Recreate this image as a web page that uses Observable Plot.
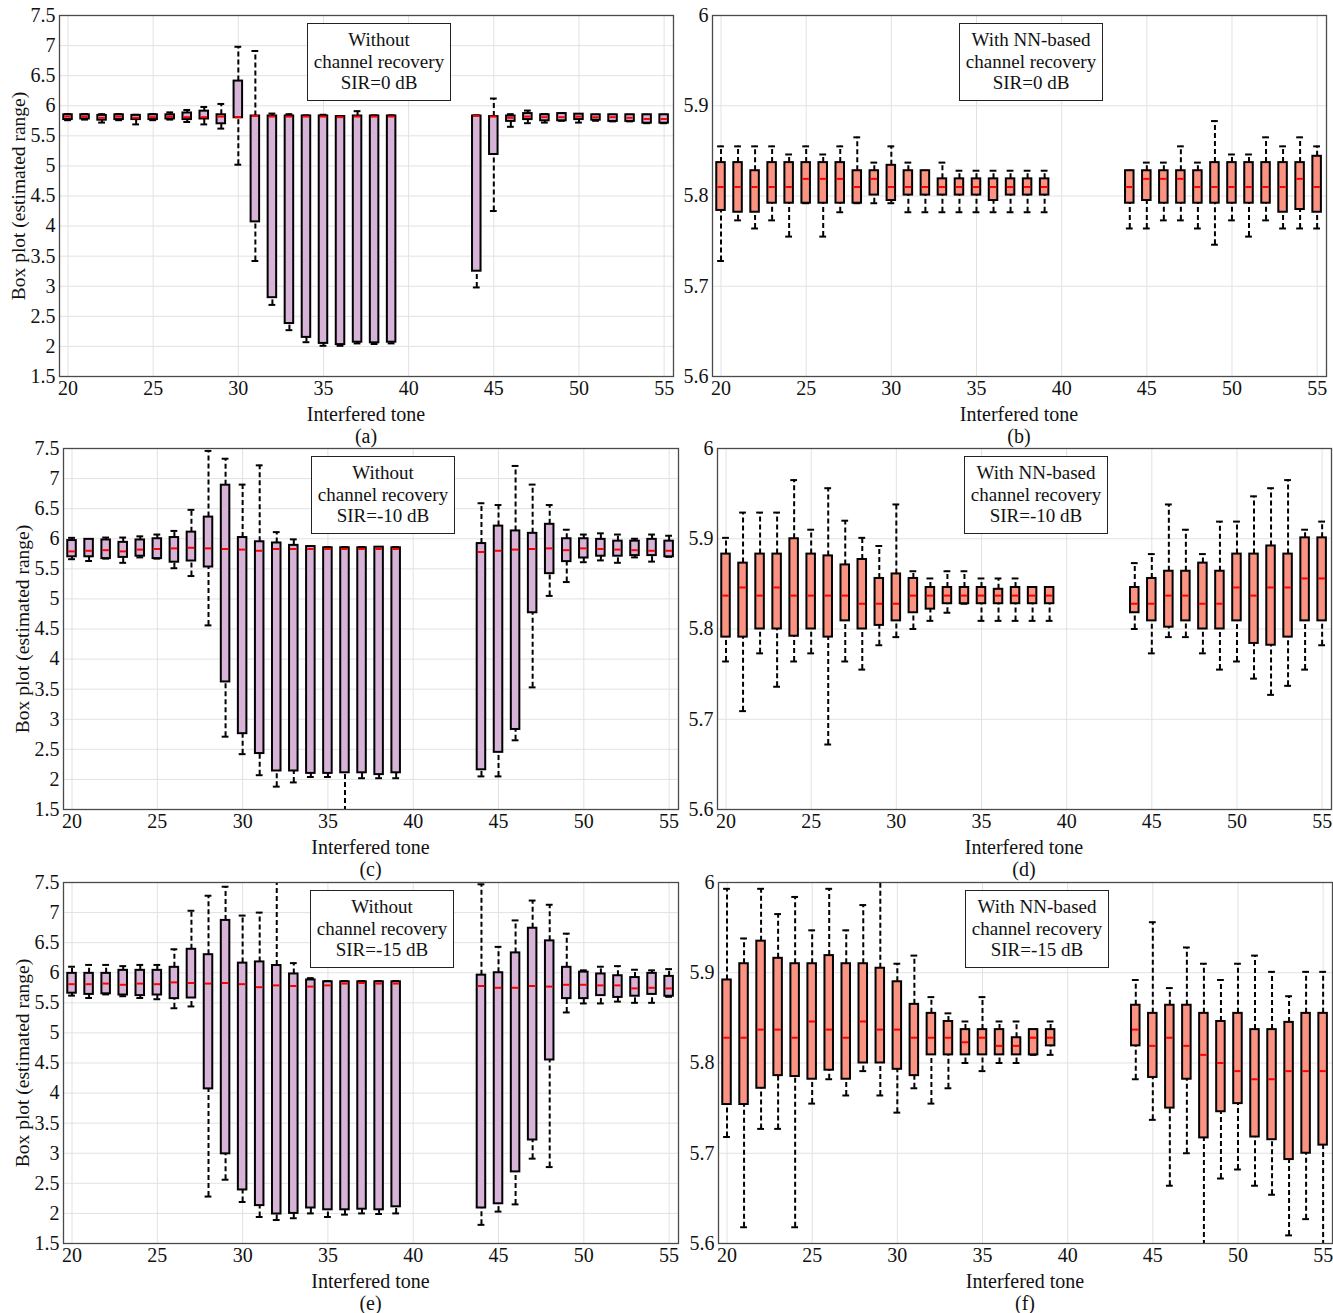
<!DOCTYPE html>
<html>
<head>
<meta charset="utf-8">
<script src="https://cdn.jsdelivr.net/npm/d3@7"></script>
<script src="https://cdn.jsdelivr.net/npm/@observablehq/plot@0.6"></script>
<style>
  html, body { margin: 0; padding: 0; background: #fff; }
  #root { position: relative; width: 1333px; height: 1313px; background: #fff; font-family: "Liberation Serif", serif; color: #111; }
  .panel { position: absolute; }
  .legend { position: absolute; box-sizing: border-box; border: 1px solid #222; background: #fff; text-align: center; font-size: 19px; line-height: 21.5px; padding-top: 5px; }
  .lbl { position: absolute; transform: translate(-50%, -50%); font-size: 20px; white-space: nowrap; }
  .ylbl { position: absolute; transform: translate(-50%, -50%) rotate(-90deg); font-size: 19.5px; white-space: nowrap; }
</style>
</head>
<body>
<div id="root"></div>
<script>
// ---------- data ----------
const tones = [20,21,22,23,24,25,26,27,28,29,30,31,32,33,34,35,36,37,38,39,44,45,46,47,48,49,50,51,52,53,54,55];
const xTicks = [20,25,30,35,40,45,50,55];
const yTicksWithout = [1.5,2,2.5,3,3.5,4,4.5,5,5.5,6,6.5,7,7.5];
const yTicksWith = [5.6,5.7,5.8,5.9,6];

// (a) Without recovery, SIR=0 dB
const a_hi  = [5.86,5.86,5.86,5.86,5.85,5.86,5.89,5.93,5.98,6.03,6.98,6.91,5.87,5.86,5.84,5.85,5.83,5.91,5.84,5.84, 5.84,6.12,5.86,5.92,5.86,5.87,5.86,5.85,5.85,5.85,5.85,5.85];
const a_q3  = [5.85,5.85,5.84,5.85,5.84,5.85,5.85,5.88,5.91,5.85,6.41,5.83,5.83,5.83,5.83,5.83,5.82,5.83,5.83,5.83, 5.83,5.82,5.83,5.87,5.85,5.87,5.86,5.85,5.85,5.85,5.85,5.85];
const a_med = [5.82,5.82,5.80,5.82,5.80,5.81,5.82,5.81,5.81,5.82,5.81,5.83,5.82,5.82,5.82,5.82,5.81,5.82,5.82,5.82, 5.83,5.82,5.80,5.82,5.81,5.81,5.82,5.81,5.81,5.80,5.78,5.78];
const a_q1  = [5.77,5.78,5.76,5.77,5.77,5.77,5.78,5.77,5.78,5.70,5.80,4.07,2.81,2.38,2.15,2.05,2.03,2.07,2.06,2.07, 3.25,5.19,5.74,5.77,5.75,5.75,5.77,5.76,5.74,5.74,5.71,5.71];
const a_lo  = [5.76,5.77,5.72,5.76,5.69,5.76,5.77,5.73,5.69,5.62,5.02,3.42,2.69,2.27,2.07,2.01,2.01,2.05,2.04,2.05, 2.98,4.25,5.65,5.71,5.72,5.75,5.72,5.75,5.74,5.74,5.71,5.71];

// (b) With NN-based recovery, SIR=0 dB
const b_hi  = [5.855,5.855,5.855,5.855,5.846,5.855,5.846,5.855,5.865,5.837,5.855,5.837,5.828,5.837,5.828,5.828,5.828,5.828,5.828,5.828, 5.828,5.837,5.837,5.855,5.837,5.883,5.846,5.846,5.865,5.855,5.865,5.855];
const b_q3  = [5.837,5.837,5.828,5.837,5.837,5.837,5.837,5.837,5.828,5.828,5.834,5.828,5.828,5.819,5.819,5.819,5.819,5.819,5.819,5.819, 5.828,5.828,5.828,5.828,5.828,5.837,5.837,5.837,5.837,5.837,5.837,5.844];
const b_med = [5.810,5.810,5.810,5.810,5.810,5.819,5.819,5.819,5.810,5.819,5.810,5.810,5.810,5.810,5.810,5.810,5.810,5.810,5.810,5.810, 5.810,5.819,5.819,5.819,5.810,5.810,5.810,5.810,5.810,5.810,5.819,5.810];
const b_q1  = [5.784,5.782,5.782,5.792,5.792,5.792,5.792,5.792,5.792,5.801,5.795,5.801,5.801,5.801,5.801,5.801,5.795,5.801,5.801,5.801, 5.792,5.795,5.792,5.792,5.792,5.792,5.792,5.792,5.792,5.782,5.785,5.782];
const b_lo  = [5.728,5.773,5.764,5.773,5.755,5.792,5.755,5.782,5.792,5.792,5.792,5.782,5.782,5.782,5.782,5.782,5.782,5.782,5.782,5.782, 5.764,5.764,5.773,5.773,5.764,5.746,5.773,5.755,5.773,5.764,5.764,5.764];

// (c) Without recovery, SIR=-10 dB
const c_hi  = [6.015,5.99,6.02,6.02,6.04,6.07,6.13,6.48,7.46,7.33,6.90,7.22,6.11,5.99,5.87,5.86,5.86,5.86,5.86,5.86, 6.59,6.56,7.21,6.90,6.56,6.15,6.07,6.09,6.07,6.00,6.07,6.05];
const c_q3  = [5.97,5.99,5.98,5.94,5.98,6.00,6.02,6.11,6.36,6.89,6.02,5.95,5.93,5.89,5.87,5.85,5.85,5.85,5.86,5.85, 5.92,6.21,6.13,6.09,6.24,6.00,6.00,5.99,5.96,5.96,5.99,5.96];
const c_med = [5.79,5.80,5.81,5.79,5.82,5.83,5.84,5.85,5.84,5.83,5.82,5.80,5.83,5.83,5.83,5.83,5.83,5.83,5.83,5.83, 5.78,5.80,5.82,5.83,5.84,5.81,5.84,5.83,5.82,5.81,5.80,5.80];
const c_q1  = [5.70,5.70,5.67,5.69,5.71,5.67,5.61,5.63,5.53,3.62,2.76,2.43,2.14,2.14,2.10,2.10,2.11,2.11,2.08,2.11, 2.16,2.45,2.83,4.77,5.42,5.62,5.68,5.71,5.71,5.72,5.72,5.70];
const c_lo  = [5.66,5.63,5.67,5.60,5.69,5.67,5.51,5.38,4.56,2.71,2.42,2.07,1.88,1.95,2.04,2.04,1.20,2.02,2.02,2.02, 2.05,2.05,2.65,3.53,5.05,5.28,5.61,5.64,5.60,5.69,5.62,5.70];

// (d) With NN-based recovery, SIR=-10 dB
const d_hi  = [5.901,5.929,5.929,5.929,5.965,5.910,5.956,5.920,5.901,5.892,5.938,5.864,5.856,5.864,5.864,5.856,5.856,5.856,5.846,5.846, 5.873,5.883,5.938,5.910,5.883,5.919,5.919,5.947,5.956,5.965,5.910,5.919];
const d_q3  = [5.883,5.873,5.883,5.883,5.900,5.883,5.881,5.871,5.877,5.856,5.861,5.856,5.846,5.846,5.846,5.846,5.844,5.846,5.846,5.846, 5.846,5.856,5.864,5.864,5.873,5.864,5.883,5.883,5.892,5.883,5.901,5.901];
const d_med = [5.837,5.846,5.837,5.846,5.837,5.837,5.837,5.837,5.828,5.828,5.828,5.837,5.837,5.837,5.837,5.837,5.837,5.837,5.837,5.837, 5.828,5.828,5.837,5.837,5.828,5.828,5.846,5.837,5.846,5.846,5.856,5.856];
const d_q1  = [5.791,5.791,5.800,5.800,5.792,5.800,5.791,5.809,5.800,5.804,5.809,5.818,5.822,5.828,5.828,5.828,5.828,5.828,5.828,5.828, 5.818,5.809,5.802,5.809,5.800,5.800,5.809,5.784,5.782,5.791,5.809,5.809];
const d_lo  = [5.764,5.709,5.773,5.736,5.764,5.773,5.672,5.764,5.755,5.782,5.791,5.800,5.809,5.818,5.828,5.809,5.809,5.809,5.809,5.809, 5.800,5.773,5.791,5.791,5.773,5.755,5.764,5.745,5.727,5.737,5.755,5.782];

// (e) Without recovery, SIR=-15 dB
const e_hi  = [6.10,6.13,6.13,6.11,6.13,6.13,6.39,7.03,7.28,7.43,6.95,7.00,7.70,6.16,5.91,5.86,5.86,5.86,5.86,5.86, 7.47,6.43,6.87,7.20,7.13,6.65,6.04,6.10,6.11,6.05,6.04,6.06];
const e_q3  = [5.99,5.99,5.99,6.04,6.04,6.04,6.09,6.39,6.30,6.87,6.16,6.18,6.12,5.98,5.88,5.85,5.85,5.85,5.85,5.85, 5.96,6.00,6.33,6.74,6.53,6.09,6.01,5.98,5.95,5.92,5.99,5.94];
const e_med = [5.81,5.81,5.82,5.80,5.82,5.81,5.84,5.83,5.82,5.83,5.81,5.76,5.79,5.78,5.77,5.79,5.82,5.83,5.82,5.82, 5.78,5.75,5.75,5.78,5.77,5.80,5.80,5.79,5.79,5.74,5.75,5.74];
const e_q1  = [5.66,5.64,5.65,5.63,5.62,5.63,5.57,5.58,4.07,2.99,2.39,2.13,1.99,2.00,2.09,2.06,2.06,2.07,2.06,2.11, 2.09,2.16,2.69,3.22,4.55,5.57,5.57,5.62,5.59,5.61,5.64,5.61];
const e_lo  = [5.62,5.58,5.64,5.61,5.58,5.56,5.41,5.44,2.28,2.56,2.19,1.94,1.89,1.92,2.00,1.94,1.98,2.00,1.99,2.00, 1.81,2.03,2.15,2.91,2.77,5.34,5.49,5.49,5.52,5.50,5.50,5.60];

// (f) With NN-based recovery, SIR=-15 dB
const f_hi  = [5.993,5.938,5.993,5.965,5.984,5.947,5.993,5.947,5.975,6.020,5.910,5.919,5.873,5.855,5.846,5.873,5.846,5.846,5.837,5.846, 5.892,5.956,5.883,5.928,5.910,5.892,5.910,5.919,5.901,5.874,5.901,5.901];
const f_q3  = [5.892,5.910,5.935,5.916,5.910,5.910,5.919,5.910,5.910,5.905,5.890,5.865,5.855,5.846,5.837,5.837,5.837,5.828,5.837,5.837, 5.864,5.855,5.864,5.864,5.855,5.846,5.855,5.837,5.837,5.845,5.855,5.855];
const f_med = [5.828,5.828,5.837,5.837,5.828,5.846,5.837,5.828,5.846,5.837,5.837,5.828,5.828,5.828,5.823,5.828,5.819,5.819,5.828,5.828, 5.837,5.819,5.828,5.819,5.809,5.800,5.791,5.782,5.782,5.791,5.791,5.791];
const f_q1  = [5.754,5.754,5.772,5.786,5.785,5.782,5.792,5.782,5.800,5.800,5.793,5.786,5.809,5.809,5.809,5.809,5.809,5.809,5.809,5.819, 5.819,5.784,5.750,5.782,5.717,5.746,5.755,5.718,5.715,5.693,5.700,5.709];
const f_lo  = [5.718,5.618,5.727,5.727,5.618,5.755,5.782,5.764,5.791,5.764,5.745,5.772,5.755,5.772,5.800,5.791,5.800,5.800,5.809,5.809, 5.782,5.737,5.664,5.700,5.580,5.672,5.682,5.664,5.654,5.609,5.627,5.580];

const legendWithout = ["Without", "channel recovery"];
const legendWith = ["With NN-based", "channel recovery"];
const sirLabels = ["SIR=0 dB", "SIR=-10 dB", "SIR=-15 dB"];
const captions = ["(a)", "(b)", "(c)", "(d)", "(e)", "(f)"];
const xLabel = "Interfered tone";
const yLabel = "Box plot (estimated range)";

// ---------- layout ----------
const PURPLE = "#d8b3d8";
const SALMON = "#fb9383";
const panels = [
  {cap: 0, lo: a_lo, q1: a_q1, med: a_med, q3: a_q3, hi: a_hi, without: true,  sir: 0, fx0: 59,  fx1: 673,  fy0: 15,  fy1: 376,  lg: [307, 23],  ylx: 19},
  {cap: 1, lo: b_lo, q1: b_q1, med: b_med, q3: b_q3, hi: b_hi, without: false, sir: 0, fx0: 712, fx1: 1326, fy0: 15,  fy1: 376,  lg: [959, 23]},
  {cap: 2, lo: c_lo, q1: c_q1, med: c_med, q3: c_q3, hi: c_hi, without: true,  sir: 1, fx0: 63,  fx1: 678,  fy0: 448, fy1: 809,  lg: [311, 456], ylx: 23},
  {cap: 3, lo: d_lo, q1: d_q1, med: d_med, q3: d_q3, hi: d_hi, without: false, sir: 1, fx0: 717, fx1: 1331, fy0: 448, fy1: 809,  lg: [964, 456]},
  {cap: 4, lo: e_lo, q1: e_q1, med: e_med, q3: e_q3, hi: e_hi, without: true,  sir: 2, fx0: 63,  fx1: 678,  fy0: 882, fy1: 1243, lg: [310, 890], ylx: 23},
  {cap: 5, lo: f_lo, q1: f_q1, med: f_med, q3: f_q3, hi: f_hi, without: false, sir: 2, fx0: 718, fx1: 1332, fy0: 882, fy1: 1243, lg: [965, 890]}
];

const root = document.getElementById("root");
const BW = 0.25, CW = 0.2;

for (const p of panels) {
  const data = tones.map((t, i) => ({t, lo: p.lo[i], q1: p.q1[i], med: p.med[i], q3: p.q3[i], hi: p.hi[i]}));
  const yTicks = p.without ? yTicksWithout : yTicksWith;
  const mL = p.without ? 59 : 32, mR = 1, mT = 8, mB = 32;
  const fw = p.fx1 - p.fx0, fh = p.fy1 - p.fy0;
  const chart = Plot.plot({
    width: fw + mL + mR,
    height: fh + mT + mB,
    marginLeft: mL, marginRight: mR, marginTop: mT, marginBottom: mB,
    style: {fontFamily: "'Liberation Serif', serif", fontSize: "20px", color: "#111", background: "transparent", overflow: "visible"},
    x: {domain: [19.5, 55.55]},
    y: {domain: [yTicks[0], yTicks[yTicks.length - 1]]},
    marks: [
      Plot.gridX(xTicks, {stroke: "#e2e2e2", strokeOpacity: 1, strokeWidth: 1}),
      Plot.gridY(yTicks, {stroke: "#e2e2e2", strokeOpacity: 1, strokeWidth: 1}),
      Plot.axisX(xTicks, {tickSize: 0, tickPadding: 4, tickFormat: d => String(d), label: null, fill: "#111", fontSize: 20}),
      Plot.axisY(yTicks, {tickSize: 0, tickPadding: 4, tickFormat: d => String(d), fill: "#111", fontSize: 20, label: null}),
      Plot.ruleX(data, {x: "t", y1: "q3", y2: "hi", stroke: "#000", strokeWidth: 2, strokeDasharray: "5,3", clip: true}),
      Plot.ruleX(data, {x: "t", y1: "lo", y2: "q1", stroke: "#000", strokeWidth: 2, strokeDasharray: "5,3", clip: true}),
      Plot.ruleY(data, {y: "hi", x1: d => d.t - CW, x2: d => d.t + CW, stroke: "#000", strokeWidth: 2, clip: true}),
      Plot.ruleY(data, {y: "lo", x1: d => d.t - CW, x2: d => d.t + CW, stroke: "#000", strokeWidth: 2, clip: true}),
      Plot.rect(data, {x1: d => d.t - BW, x2: d => d.t + BW, y1: "q1", y2: "q3", fill: p.without ? PURPLE : SALMON, stroke: "#000", strokeWidth: 2, clip: true}),
      Plot.ruleY(data, {y: "med", x1: d => d.t - BW + 0.06, x2: d => d.t + BW - 0.06, stroke: "#ff0000", strokeWidth: 2, clip: true}),
      Plot.frame({stroke: "#4a4a4a", strokeWidth: 1.3})
    ]
  });
  const wrap = document.createElement("div");
  wrap.className = "panel";
  wrap.style.left = (p.fx0 - mL) + "px";
  wrap.style.top = (p.fy0 - mT) + "px";
  wrap.appendChild(chart);
  root.appendChild(wrap);

  // y label (left panels)
  if (p.without) {
    const yl = document.createElement("div");
    yl.className = "ylbl";
    yl.style.left = p.ylx + "px";
    yl.style.top = ((p.fy0 + p.fy1) / 2) + "px";
    yl.textContent = yLabel;
    root.appendChild(yl);
  }

  // legend box
  const lg = document.createElement("div");
  lg.className = "legend";
  lg.style.left = p.lg[0] + "px";
  lg.style.top = p.lg[1] + "px";
  lg.style.width = "144px";
  lg.style.height = "78px";
  const lines = (p.without ? legendWithout : legendWith).concat([sirLabels[p.sir]]);
  lg.innerHTML = lines.map(s => `<div>${s}</div>`).join("");
  root.appendChild(lg);

  // x label and caption
  const cx = (p.fx0 + p.fx1) / 2;
  const xl = document.createElement("div");
  xl.className = "lbl";
  xl.style.left = cx + "px";
  xl.style.top = (p.fy1 + 38) + "px";
  xl.textContent = xLabel;
  root.appendChild(xl);
  const cp = document.createElement("div");
  cp.className = "lbl";
  cp.style.left = cx + "px";
  cp.style.top = (p.fy1 + 60) + "px";
  cp.textContent = captions[p.cap];
  root.appendChild(cp);
}
</script>
</body>
</html>
